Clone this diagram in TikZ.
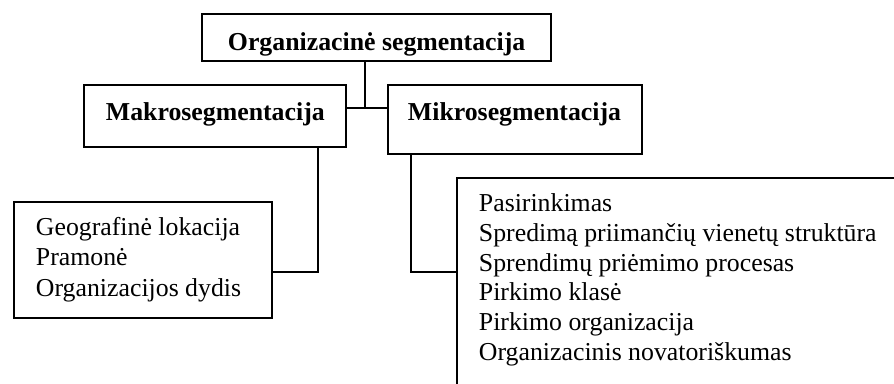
\documentclass[tikz,border=0pt]{standalone}
\usepackage{fontspec}
\setmainfont{Liberation Serif}
\usetikzlibrary{fit}

\begin{document}
\begin{tikzpicture}[
  x=0.4651pt, y=-0.4651pt, line width=0.9pt,
  frame/.style={draw, inner sep=0pt},
  head/.style={font=\fontsize{12}{14}\selectfont\bfseries, inner sep=0pt, anchor=base west},
  item/.style={font=\fontsize{12}{14}\selectfont, inner sep=0pt, anchor=base west}]
\path[use as bounding box, clip] (0,0) rectangle (894,383);
% boxes
\node[frame, fit={(202,14) (551,61)}] (org) {};
\node[frame, fit={(84,85) (346,147)}] (makro) {};
\node[frame, fit={(388,85) (642,154)}] (mikro) {};
\node[frame, fit={(14,202) (272,318)}] (makrolist) {};
\node[frame, fit={(457,178) (930,420)}] (mikrolist) {};
% titles
\node[head] (orgt) at (227,50) {Organizacinė segmentacija};
\node[head] (makrot) at (105,120.5) {Makrosegmentacija};
\node[head] (mikrot) at (407,120.5) {Mikrosegmentacija};
% lists
\foreach \txt [count=\i] in {Geografinė lokacija, Pramonė, Organizacijos dydis}
  \node[item] (ma\i) at (35,205+30.4*\i) {\txt};
\foreach \txt [count=\i] in {Pasirinkimas, Spredimą priimančių vienetų struktūra,
    Sprendimų priėmimo procesas, Pirkimo klasė, Pirkimo organizacija,
    Organizacinis novatoriškumas}
  \node[item] (mi\i) at (478,182+29.7*\i) {\txt};
% connectors
\coordinate (j) at (365,108);
\coordinate (jl) at (318,272);
\coordinate (jr) at (411,272);
\draw (org.south -| j) -- (j);
\draw (makro.east |- j) -- (mikro.west |- j);
\draw (makro.south -| jl) -- (jl) -- (makrolist.east |- jl);
\draw (mikro.south -| jr) -- (jr) -- (mikrolist.west |- jr);
\end{tikzpicture}
\end{document}
